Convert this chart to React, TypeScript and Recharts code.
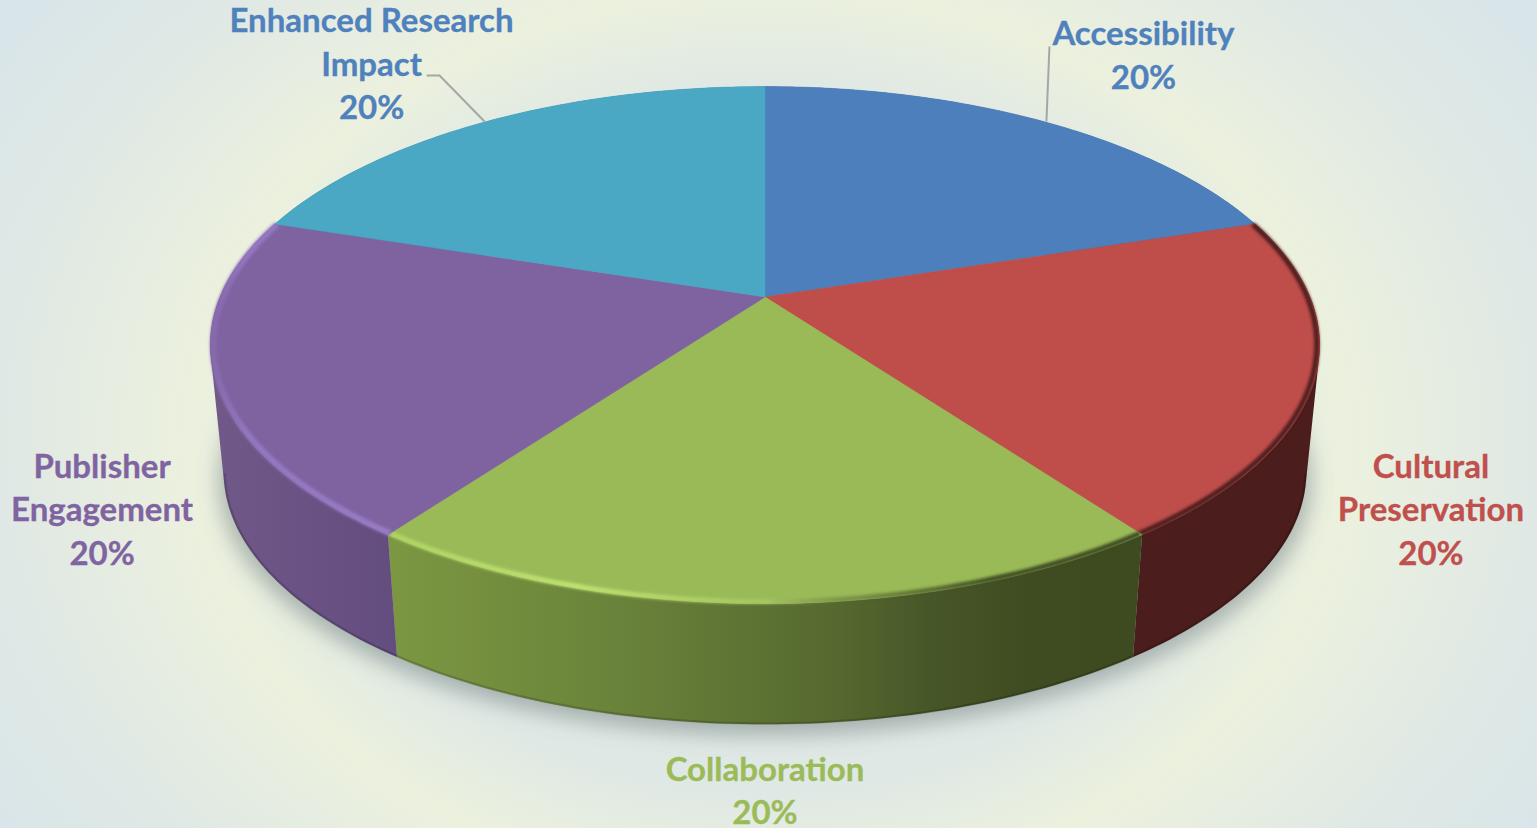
import { PieChart, Pie } from "recharts";

const categories = ["Accessibility", "Cultural Preservation", "Collaboration", "Publisher Engagement", "Enhanced Research Impact"];
const shares = [20, 20, 20, 20, 20];
const sliceColors = ["#4d7fbc", "#bf4e4b", "#9aba58", "#7f62a0", "#4aa8c4"];
const labelColors = ["#4f81bd", "#c0504d", "#9bbb59", "#8064a2", "#4f81bd"];
const labelLines = [
  ["Accessibility"],
  ["Cultural", "Preservation"],
  ["Collaboration"],
  ["Publisher", "Engagement"],
  ["Enhanced Research", "Impact"],
];

const data = categories.map((name, i) => ({ name, value: shares[i], fill: sliceColors[i] }));

const W = 1537;
const H = 828;
const CX = 765;
const CY = 297;
const R = 545;
const TILT = 0.458;
const PERSP = 0.186;
const FONT = "Lato, Carlito, sans-serif";

// where the label block's first line sits relative to the rim point at mid angle
const labelOffsets = [
  { dx: 100, dy: -76 },
  { dx: 116, dy: 99 },
  { dx: 0, dy: 177 },
  { dx: -113, dy: 99 },
  { dx: -115, dy: -89 },
];

// per-slice wall shading, left to right
const wallStops = [
  [["0%", "#3f5f8c"], ["100%", "#3f5f8c"]],
  [["0%", "#4b1d1d"], ["100%", "#4b1d1d"]],
  [["0%", "#7c9742"], ["30%", "#6a833a"], ["60%", "#55682f"], ["72%", "#475628"], ["85%", "#3f4c21"], ["100%", "#3e4a20"]],
  [["0%", "#705889"], ["100%", "#634c7e"]],
  [["0%", "#2f7488"], ["100%", "#2f7488"]],
];

// rim bevel colours along the top edge
const rimStops = [
  [["0%", "#2f4d75"], ["100%", "#2f4d75"]],
  [["0%", "#4b1d1d"], ["100%", "#4b1d1d"]],
  [["0%", "#b0d464"], ["25%", "#c2e472"], ["50%", "#aed065", 0.6], ["62%", "#4a5a28", 0.45], ["80%", "#404d21"], ["100%", "#3e4a20"]],
  [["0%", "#8569ab"], ["20%", "#9377c0"], ["100%", "#987bc6"]],
  [["0%", "#4aa8c4"], ["100%", "#4aa8c4"]],
];

type Plane = { scale: number; dy: number };
const TOP: Plane = { scale: 1, dy: 0 };
const BASE: Plane = { scale: 0.976, dy: 128 };
const GROUND: Plane = { scale: 0.985, dy: 137 };

// circle -> perspective ellipse on the given plane
function project(cx: number, cy: number, r: number, deg: number, t = 1, plane: Plane = TOP) {
  const a = (deg * Math.PI) / 180;
  const u = Math.cos(a) * t;
  const v = Math.sin(a) * t;
  const w = 1 + PERSP * v;
  return {
    x: cx + (r * plane.scale * u) / w,
    y: cy + plane.dy - (r * TILT * plane.scale * v) / w,
  };
}

function angleSteps(start: number, end: number) {
  const n = Math.max(2, Math.ceil(Math.abs(end - start)));
  const out: number[] = [];
  for (let i = 0; i <= n; i++) out.push(start + ((end - start) * i) / n);
  return out;
}

const fmt = (p: { x: number; y: number }) => `${p.x.toFixed(2)} ${p.y.toFixed(2)}`;

function WallShape(props: any) {
  const { cx, cy, outerRadius, startAngle, endAngle, index } = props;
  const steps = angleSteps(startAngle, endAngle);
  let d = "";
  for (let i = 0; i < steps.length - 1; i++) {
    const a = project(cx, cy, outerRadius, steps[i]);
    const b = project(cx, cy, outerRadius, steps[i + 1]);
    const c = project(cx, cy, outerRadius, steps[i + 1], 1, BASE);
    const e = project(cx, cy, outerRadius, steps[i], 1, BASE);
    const area = (b.x - a.x) * (c.y - a.y) - (b.y - a.y) * (c.x - a.x);
    d += area > 0
      ? `M${fmt(a)}L${fmt(b)}L${fmt(c)}L${fmt(e)}Z`
      : `M${fmt(e)}L${fmt(c)}L${fmt(b)}L${fmt(a)}Z`;
  }
  // dark line along the visible foot of the wall only
  const front = steps.filter((s) => Math.sin((s * Math.PI) / 180) < -PERSP);
  const base = front.map((s) => fmt(project(cx, cy, outerRadius, s, 0.998, BASE)));
  return (
    <g>
      <path d={d} fill={`url(#wall${index})`} stroke="none" />
      {base.length > 1 && (
        <path d={`M${base.join("L")}`} fill="none" stroke="#000" strokeOpacity={0.16} strokeWidth={2.5} />
      )}
    </g>
  );
}

function TopShape(props: any) {
  const { cx, cy, outerRadius, startAngle, endAngle, index, fill } = props;
  const steps = angleSteps(startAngle, endAngle);
  const arc = steps.map((s) => fmt(project(cx, cy, outerRadius, s)));
  const rim = steps.map((s) => fmt(project(cx, cy, outerRadius, s, 0.995)));
  const face = `M${cx} ${cy}L${arc.join("L")}Z`;
  return (
    <g>
      <path d={face} fill={fill} stroke={fill} strokeWidth={0.5} />
      {index >= 1 && index <= 3 && (
        <path
          d={`M${rim.join("L")}`}
          fill="none"
          stroke={`url(#rim${index})`}
          strokeWidth={index === 3 ? 6 : 5}
          strokeLinecap="butt"
          filter="url(#rimBlur)"
        />
      )}
    </g>
  );
}

function renderLabel(props: any) {
  const { cx, cy, outerRadius, midAngle, index, percent } = props;
  const foot = project(cx, cy, outerRadius, midAngle);
  const off = labelOffsets[index];
  const x = foot.x + off.dx;
  const y = foot.y + off.dy;
  const lines = [...labelLines[index], `${Math.round(percent * 100)}%`];
  let leader = null;
  if (index === 0) {
    leader = `${foot.x + 3},${foot.y} ${foot.x + 6},${foot.y - 75}`;
  } else if (index === 4) {
    leader = `${foot.x - 2},${foot.y} ${foot.x - 47},${foot.y - 46} ${foot.x - 60},${foot.y - 46}`;
  }
  return (
    <g key={index}>
      {leader && <polyline points={leader} fill="none" stroke="#a6a6a6" strokeWidth={2} />}
      <text
        textAnchor="middle"
        fontFamily={FONT}
        fontWeight={700}
        fontSize={33}
        fill={labelColors[index]}
        stroke={labelColors[index]}
        strokeWidth={0.3}
      >
        {lines.map((ln, i) => (
          <tspan key={i} x={x} y={y + i * 43.5}>{ln}</tspan>
        ))}
      </text>
    </g>
  );
}

const groundPath = `M${angleSteps(0, 360).map((s) => fmt(project(CX, CY, R, s, 1, GROUND))).join("L")}Z`;

export default function App() {
  return (
    <div
      style={{
        position: "absolute",
        left: 0,
        top: 0,
        width: W,
        height: H,
        overflow: "hidden",
        background:
          "radial-gradient(ellipse 575px 450px at 768px 440px, #dfe8e4 0%, #dfe8e4 78%, #ecf1de 100%, #e4ebe2 122%, #dfe8e5 135%, #d8e5e9 162%)",
      }}
    >
      <PieChart width={W} height={H} margin={{ top: 0, right: 0, bottom: 0, left: 0 }}>
        <defs>
          <filter id="rimBlur" x="-5%" y="-5%" width="110%" height="110%">
            <feGaussianBlur stdDeviation="1.5" />
          </filter>
          <filter id="groundBlur" x="-10%" y="-10%" width="120%" height="120%">
            <feGaussianBlur stdDeviation="10" />
          </filter>
          {wallStops.map((stops, i) => (
            <linearGradient key={i} id={`wall${i}`} gradientUnits="userSpaceOnUse" x1={i === 2 ? 391 : 220} y1={0} x2={i === 2 ? 1140 : 400} y2={0}>
              {stops.map((s, j) => <stop key={j} offset={s[0]} stopColor={s[1]} />)}
            </linearGradient>
          ))}
          {rimStops.map((stops, i) => (
            <linearGradient key={i} id={`rim${i}`} gradientUnits="userSpaceOnUse" x1={i === 2 ? 391 : 212} y1={0} x2={i === 2 ? 1140 : 391} y2={0}>
              {stops.map((s: any, j) => <stop key={j} offset={s[0]} stopColor={s[1]} stopOpacity={s[2] ?? 1} />)}
            </linearGradient>
          ))}
        </defs>
        <path d={groundPath} fill="#6f7f80" fillOpacity={0.5} filter="url(#groundBlur)" />
        <Pie
          data={data}
          dataKey="value"
          nameKey="name"
          cx={CX}
          cy={CY}
          outerRadius={R}
          startAngle={90}
          endAngle={-270}
          stroke="none"
          shape={WallShape}
          isAnimationActive={false}
          legendType="none"
        />
        <Pie
          data={data}
          dataKey="value"
          nameKey="name"
          cx={CX}
          cy={CY}
          outerRadius={R}
          startAngle={90}
          endAngle={-270}
          stroke="none"
          shape={TopShape}
          label={renderLabel}
          labelLine={false}
          isAnimationActive={false}
          legendType="none"
        />
      </PieChart>
    </div>
  );
}
